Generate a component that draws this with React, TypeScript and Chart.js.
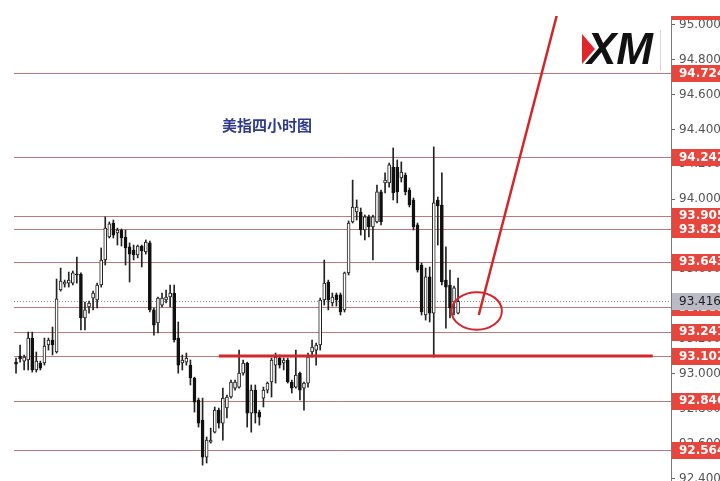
import React, { useEffect, useRef } from "react";
import { Chart, registerables } from "chart.js";

Chart.register(...registerables);

// ---- data (prices) ----
const SLOT_COUNT = 162; // 4-hour slots shown on the x axis (last ones still empty)

const openP = [
  93.067, 93.102, 93.073, 93.079, 93.205, 93.022, 93.062, 93.062, 93.165, 93.194,
  93.125, 93.480, 93.514, 93.520, 93.520, 93.572, 93.572, 93.320, 93.383, 93.434,
  93.423, 93.509, 93.652, 93.784, 93.864, 93.807, 93.824, 93.784, 93.727, 93.709,
  93.681, 93.732, 93.698, 93.750, 93.366, 93.291, 93.394, 93.423, 93.440, 93.463,
  93.205, 93.062, 93.067, 93.050, 92.976, 92.850, 92.735, 92.523, 92.609, 92.666,
  92.792, 92.718, 92.804, 92.867, 92.918, 92.924, 93.004, 93.062, 92.775, 92.907,
  92.781, 92.861, 92.907, 92.953, 93.050, 93.090, 93.062, 93.079, 92.953, 92.924,
  93.004, 92.918, 92.947, 93.125, 93.136, 93.165, 93.423, 93.526, 93.406, 93.452,
  93.452, 93.366, 93.578, 93.870, 93.927, 93.927, 93.824, 93.899, 93.841, 93.870,
  94.042, 94.093, 94.093, 94.185, 94.185, 94.122, 94.139, 94.053, 93.996, 93.853,
  93.623, 93.337, 93.555, 93.348, 93.996, 93.967, 93.537, 93.509, 93.411, 93.348,
];
const highP = [
  93.090, 93.165, 93.108, 93.239, 93.239, 93.125, 93.073, 93.205, 93.205, 93.268,
  93.543, 93.606, 93.537, 93.583, 93.589, 93.669, 93.578, 93.411, 93.417, 93.474,
  93.520, 93.721, 93.899, 93.870, 93.881, 93.835, 93.830, 93.824, 93.750, 93.738,
  93.738, 93.738, 93.767, 93.761, 93.377, 93.440, 93.463, 93.480, 93.509, 93.509,
  93.297, 93.108, 93.119, 93.079, 92.981, 92.861, 92.861, 92.638, 92.689, 92.810,
  92.804, 92.918, 92.878, 92.964, 92.964, 93.136, 93.079, 93.067, 92.936, 92.936,
  92.792, 92.924, 92.953, 93.090, 93.119, 93.108, 93.090, 93.090, 92.964, 93.136,
  93.010, 92.953, 93.119, 93.194, 93.176, 93.434, 93.652, 93.537, 93.463, 93.463,
  93.463, 93.583, 93.876, 94.110, 93.996, 93.950, 93.910, 93.910, 93.910, 94.082,
  94.053, 94.151, 94.208, 94.294, 94.225, 94.214, 94.151, 94.065, 94.007, 93.864,
  93.635, 93.606, 93.612, 94.300, 94.013, 94.151, 93.727, 93.595, 93.503, 93.549,
];
const lowP = [
  93.004, 93.067, 93.022, 93.022, 93.010, 93.010, 93.022, 93.050, 93.136, 93.108,
  93.119, 93.474, 93.497, 93.497, 93.509, 93.520, 93.251, 93.251, 93.348, 93.366,
  93.377, 93.497, 93.623, 93.778, 93.778, 93.738, 93.732, 93.623, 93.526, 93.652,
  93.664, 93.612, 93.686, 93.354, 93.222, 93.234, 93.383, 93.406, 93.383, 93.182,
  93.004, 93.022, 93.050, 92.936, 92.781, 92.695, 92.477, 92.489, 92.603, 92.661,
  92.689, 92.620, 92.747, 92.861, 92.907, 92.918, 92.993, 92.695, 92.666, 92.718,
  92.706, 92.810, 92.890, 92.867, 92.947, 93.033, 93.022, 92.947, 92.890, 92.918,
  92.850, 92.792, 92.924, 93.096, 93.050, 93.136, 93.394, 93.366, 93.388, 93.388,
  93.337, 93.354, 93.566, 93.864, 93.881, 93.795, 93.767, 93.784, 93.652, 93.864,
  93.853, 94.036, 94.070, 93.996, 93.979, 94.099, 94.025, 93.956, 93.824, 93.583,
  93.337, 93.308, 93.297, 93.096, 93.738, 93.509, 93.262, 93.320, 93.337, 93.343,
];
const closeP = [
  93.056, 93.085, 93.096, 93.205, 93.022, 93.073, 93.033, 93.159, 93.194, 93.165,
  93.429, 93.532, 93.526, 93.537, 93.578, 93.566, 93.320, 93.366, 93.406, 93.463,
  93.509, 93.652, 93.835, 93.859, 93.795, 93.824, 93.778, 93.721, 93.686, 93.681,
  93.732, 93.704, 93.755, 93.366, 93.279, 93.434, 93.434, 93.440, 93.463, 93.194,
  93.050, 93.079, 93.090, 92.976, 92.838, 92.718, 92.523, 92.620, 92.620, 92.792,
  92.718, 92.861, 92.867, 92.953, 92.953, 93.004, 93.062, 92.775, 92.907, 92.775,
  92.752, 92.907, 92.947, 93.079, 93.096, 93.050, 93.079, 92.953, 92.918, 92.993,
  92.907, 92.947, 93.096, 93.153, 93.165, 93.423, 93.520, 93.423, 93.440, 93.423,
  93.354, 93.578, 93.864, 93.956, 93.956, 93.824, 93.899, 93.841, 93.899, 94.042,
  93.870, 94.110, 94.197, 94.036, 94.042, 94.156, 94.042, 93.967, 93.841, 93.595,
  93.354, 93.555, 93.348, 93.979, 93.962, 93.526, 93.497, 93.377, 93.492, 93.416,
];

const yTicks = [92.4, 92.6, 92.8, 93.0, 93.2, 93.4, 93.6, 93.8, 94.0, 94.2, 94.4, 94.6, 94.8, 95.0];
const levelPrices = [95.08, 94.724, 94.242, 93.905, 93.828, 93.643, 93.383, 93.241, 93.102, 92.846, 92.564];
const currentPrice = 93.416;
const supportPrice = 93.102;
const supportSlots = [50, 157];
const circleMark = { slot: 113.6, price: 93.36, slotRadius: 6.2, priceRadius: 0.108 };
const arrowMark = { fromSlot: 114.1, fromPrice: 93.337, toSlot: 136.1, toPrice: 95.3 };
const TITLE = "美指四小时图";
const Y_MIN = 92.386;
const Y_MAX = 95.05;

const slotLabels = Array.from({ length: SLOT_COUNT }, (_, i) => String(i));

const LEVEL_LINE = "rgba(165,70,70,0.72)";
const MARK_RED = "#d3262b";
const LABEL_RED = "#e8453c";

const overlay = {
  id: "overlay",
  beforeDatasetsDraw(chart: any) {
    const { ctx, chartArea: a, scales } = chart;
    const y = scales.y;
    ctx.save();
    ctx.beginPath();
    ctx.rect(a.left, a.top, a.right - a.left, a.bottom - a.top);
    ctx.clip();
    ctx.lineWidth = 1;
    ctx.strokeStyle = LEVEL_LINE;
    levelPrices.forEach((p) => {
      const py = Math.round(y.getPixelForValue(p)) + 0.5;
      ctx.beginPath();
      ctx.moveTo(a.left, py);
      ctx.lineTo(a.right, py);
      ctx.stroke();
    });
    ctx.setLineDash([1, 2]);
    ctx.strokeStyle = "#8c8c8c";
    const cy = Math.round(y.getPixelForValue(currentPrice)) + 0.5;
    ctx.beginPath();
    ctx.moveTo(a.left, cy);
    ctx.lineTo(a.right, cy);
    ctx.stroke();
    ctx.restore();
  },
  afterDatasetsDraw(chart: any) {
    const { ctx, chartArea: a, scales } = chart;
    const x = scales.x;
    const y = scales.y;
    ctx.save();
    ctx.beginPath();
    ctx.rect(a.left, a.top, a.right - a.left, a.bottom - a.top);
    ctx.clip();
    // support line
    ctx.strokeStyle = MARK_RED;
    ctx.lineWidth = 3;
    const sy = y.getPixelForValue(supportPrice);
    ctx.beginPath();
    ctx.moveTo(x.getPixelForValue(supportSlots[0]), sy);
    ctx.lineTo(x.getPixelForValue(supportSlots[1]), sy);
    ctx.stroke();
    // ellipse
    const cx = x.getPixelForValue(circleMark.slot);
    const cy = y.getPixelForValue(circleMark.price);
    const rx = Math.abs(x.getPixelForValue(circleMark.slot + circleMark.slotRadius) - cx);
    const ry = Math.abs(y.getPixelForValue(circleMark.price + circleMark.priceRadius) - cy);
    ctx.lineWidth = 2;
    ctx.beginPath();
    ctx.ellipse(cx, cy, rx, ry, 0, 0, Math.PI * 2);
    ctx.stroke();
    // arrow line
    ctx.lineWidth = 2.5;
    ctx.beginPath();
    ctx.moveTo(x.getPixelForValue(arrowMark.fromSlot), y.getPixelForValue(arrowMark.fromPrice));
    ctx.lineTo(x.getPixelForValue(arrowMark.toSlot), y.getPixelForValue(arrowMark.toPrice));
    ctx.stroke();
    ctx.restore();
  },
  afterDraw(chart: any) {
    const { ctx, chartArea: a, scales, width } = chart;
    const y = scales.y;
    // price labels
    ctx.save();
    ctx.beginPath();
    ctx.rect(a.right, a.top, width - a.right, a.bottom - a.top);
    ctx.clip();
    ctx.font = "bold 12px 'DejaVu Sans'";
    ctx.textBaseline = "middle";
    const drawLabel = (p: number, bg: string, fg: string) => {
      const py = y.getPixelForValue(p);
      ctx.fillStyle = bg;
      ctx.fillRect(a.right + 1, Math.round(py) - 8, width - a.right - 1, 17);
      ctx.fillStyle = fg;
      ctx.fillText(p.toFixed(3), a.right + 8, py + 0.5);
    };
    levelPrices.forEach((p) => drawLabel(p, LABEL_RED, "#ffffff"));
    ctx.font = "12px 'DejaVu Sans'";
    drawLabel(currentPrice, "#b9bcc7", "#1e1e1e");
    ctx.restore();

    // title
    ctx.save();
    ctx.font = "bold 15px 'Noto Sans CJK SC'";
    ctx.fillStyle = "#2d3a8f";
    ctx.textBaseline = "middle";
    ctx.fillText(TITLE, 222, 125);
    ctx.restore();

    // XM logo
    ctx.save();
    ctx.fillStyle = "#e0262b";
    ctx.beginPath();
    ctx.moveTo(582, 34);
    ctx.lineTo(595, 49);
    ctx.lineTo(582, 64);
    ctx.closePath();
    ctx.fill();
    ctx.fillStyle = "#111111";
    ctx.font = "italic bold 44px 'Liberation Sans'";
    ctx.textBaseline = "alphabetic";
    ctx.fillText("XM", 587, 64);
    ctx.strokeStyle = "#d6d6d6";
    ctx.lineWidth = 1;
    ctx.beginPath();
    ctx.moveTo(660.5, 30);
    ctx.lineTo(660.5, 71);
    ctx.stroke();
    ctx.restore();
  },
};

export default function App() {
  const ref = useRef<HTMLCanvasElement | null>(null);
  useEffect(() => {
    if (!ref.current) return;
    const bull = openP.map((o, i) => closeP[i] >= o);
    const chart = new Chart(ref.current, {
      type: "bar",
      data: {
        labels: slotLabels,
        datasets: [
          {
            label: "body",
            data: openP.map((o, i) => [o, closeP[i]]) as any,
            backgroundColor: bull.map((b) => (b ? "#ffffff" : "#111111")),
            borderColor: bull.map((b) => (b ? "#1c1c1c" : "#111111")),
            borderWidth: 1,
            borderSkipped: false,
            barThickness: 3,
            grouped: false,
            order: 0,
          } as any,
          {
            label: "wick",
            data: lowP.map((l, i) => [l, highP[i]]) as any,
            backgroundColor: "#222222",
            borderWidth: 0,
            barThickness: 1,
            grouped: false,
            order: 1,
          } as any,
        ],
      },
      options: {
        animation: false,
        responsive: false,
        devicePixelRatio: 1,
        layout: { padding: { left: 14, top: 16, right: 0, bottom: 0 } },
        plugins: { legend: { display: false }, tooltip: { enabled: false } },
        scales: {
          x: { display: false, offset: true, grid: { display: false } },
          y: {
            position: "right",
            min: Y_MIN,
            max: Y_MAX,
            grid: { drawOnChartArea: false, drawTicks: true, tickLength: 4, color: "#666666" },
            border: { display: true, color: "#7a7a7a" },
            ticks: {
              padding: 4,
              color: "#555555",
              font: { family: "'DejaVu Sans'", size: 12 },
              autoSkip: false,
              callback: (v: any) => Number(v).toFixed(3),
            },
            afterBuildTicks: (scale: any) => {
              scale.ticks = yTicks.map((v) => ({ value: v }));
            },
            afterFit: (scale: any) => {
              scale.width = 49;
              scale.paddingTop = 0;
              scale.paddingBottom = 0;
            },
          } as any,
        },
      },
      plugins: [overlay],
    });
    return () => chart.destroy();
  }, []);
  return (
    <div style={{ position: "absolute", left: 0, top: 0, width: 720, height: 481, background: "#ffffff" }}>
      <canvas ref={ref} width={720} height={481} style={{ display: "block" }} />
    </div>
  );
}
